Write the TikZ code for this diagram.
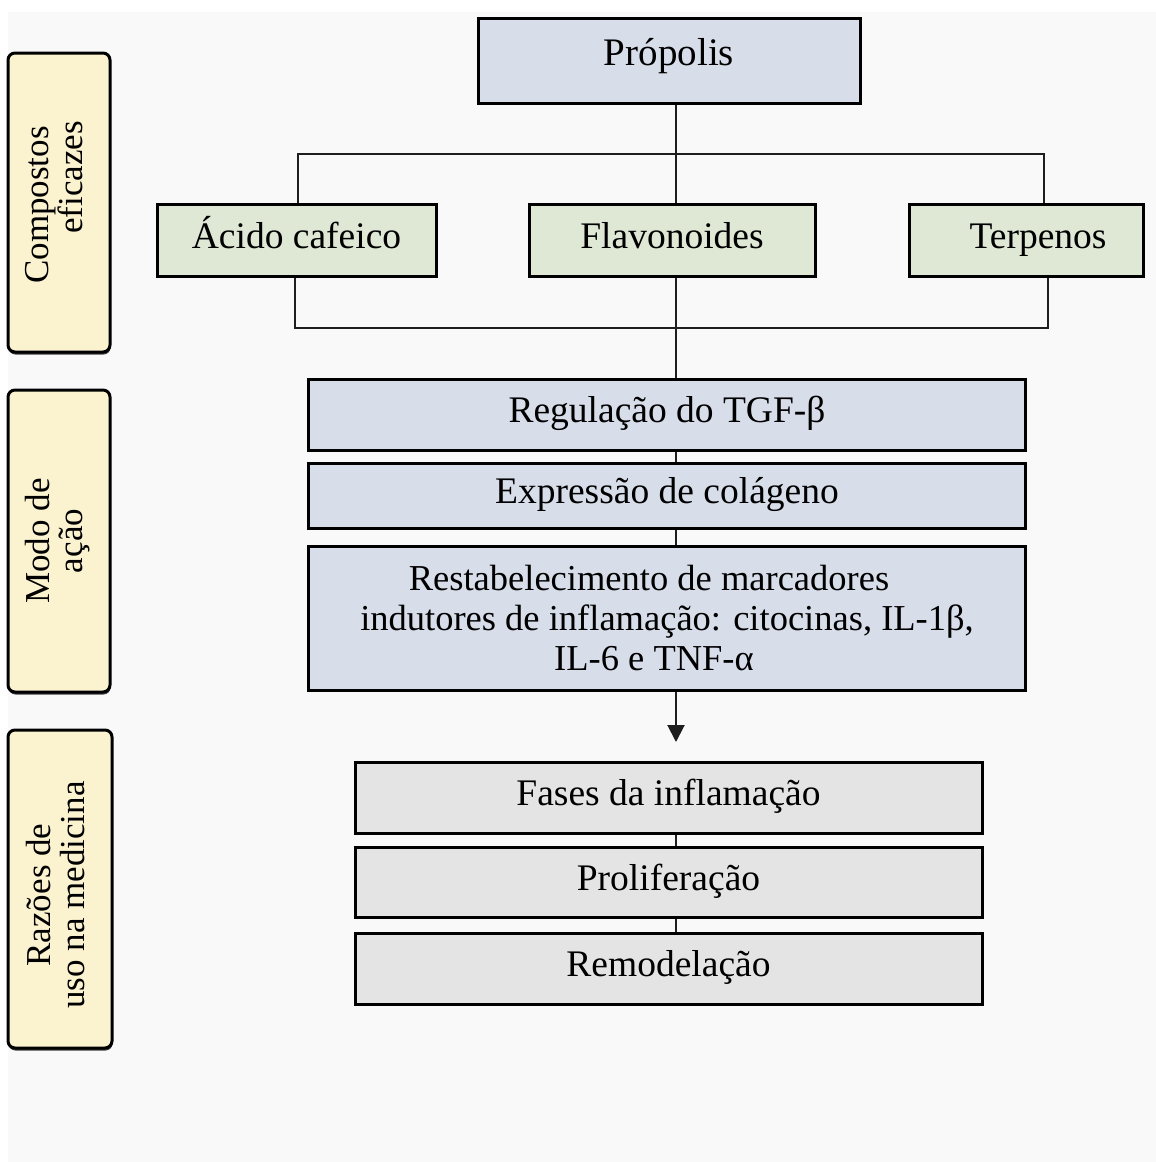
\documentclass[tikz,border=0pt]{standalone}
\usepackage{fontspec}
\setmainfont{Liberation Serif}
\usetikzlibrary{arrows.meta,shadows}
\definecolor{bgc}{RGB}{249,249,249}
\definecolor{creamF}{RGB}{251,242,208}
\definecolor{blueF}{RGB}{216,221,234}
\definecolor{greenF}{RGB}{222,232,213}
\definecolor{grayF}{RGB}{228,228,228}
\definecolor{lineC}{RGB}{30,30,30}
\begin{document}
\begin{tikzpicture}[x=1pt,y=-1pt,
  box/.style={draw=black, line width=3pt, inner sep=0pt, align=center,
    font=\fontsize{37.5}{40}\selectfont, text height=26pt, text depth=10pt},
  bluebox/.style={box, fill=blueF},
  greenbox/.style={box, fill=greenF},
  graybox/.style={box, fill=grayF},
  multibox/.style={draw=black, line width=3pt, inner sep=0pt, align=center,
    fill=blueF, font=\fontsize{36.5}{40}\selectfont},
  sidebox/.style={draw=black, line width=3pt, rounded corners=7pt, fill=creamF,
    inner sep=0pt, font=\fontsize{35}{32}\selectfont,
    drop shadow={shadow xshift=0.5pt, shadow yshift=-2.5pt, fill=black, opacity=0.75}},
  conn/.style={draw=lineC, line width=2pt},
]
\useasboundingbox (0,0) rectangle (1156,1162);
\fill[white] (0,0) rectangle (1156,1162);
\fill[bgc] (8,12) rectangle (1156,1162);

\coordinate (spine) at (676,0);

% side labels
\node[sidebox, minimum width=102, minimum height=299] (s1) at (59,202.5)
  {\rotatebox{90}{\begin{tabular}{@{}l@{}}Compostos\\\hspace*{50pt}eficazes\end{tabular}}};
\node[sidebox, minimum width=102, minimum height=302] (s2) at (59,541)
  {\rotatebox{90}{\begin{tabular}{@{}c@{}}Modo de\\ação\end{tabular}}};
\node[sidebox, minimum width=104, minimum height=318] (s3) at (60,889)
  {\rotatebox{90}{\begin{tabular}{@{}c@{}}Razões de\\uso na medicina\end{tabular}\hspace*{12pt}}};

% top
\node[bluebox, minimum width=382, minimum height=85, font=\fontsize{39}{42}\selectfont,
  text height=27pt, text depth=17pt] (prop) at (669,60.5) {Própolis};

% compounds
\node[greenbox, minimum width=279, minimum height=72] (acido) at (296.5,240) {Ácido cafeico};
\node[greenbox, minimum width=286, minimum height=72] (flav) at (672,240) {Flavonoides};
\node[greenbox, minimum width=234, minimum height=72] (terp) at (1026,240) {\hspace*{24pt}Terpenos};

% mode of action
\node[bluebox, minimum width=717, minimum height=71] (reg) at (667,414.5) {Regulação do TGF-β};
\node[bluebox, minimum width=717, minimum height=65] (expr) at (667,495.5) {Expressão de colágeno};
\node[multibox, minimum width=717, minimum height=144] (rest) at (667,618)
  {Restabelecimento de marcadores\hspace*{36pt}\\indutores de inflamação: citocinas, IL-1β,\\IL-6 e TNF-α\hspace*{26pt}};

% reasons
\node[graybox, minimum width=627, minimum height=71] (fases) at (668.5,797.5) {Fases da inflamação};
\node[graybox, minimum width=627, minimum height=70] (prolif) at (668.5,882) {Proliferação};
\node[graybox, minimum width=627, minimum height=71] (remod) at (668.5,968.5) {Remodelação};

\coordinate (arrtip) at (676,742);

% connectors
\draw[conn] (prop.south -| spine) -- (flav.north -| spine);
\draw[conn] ([xshift=1.5pt]acido.north) -- ++(0,-49) -| ([xshift=18pt]terp.north);
\draw[conn] ([xshift=-1.5pt]acido.south) -- ++(0,50) -| ([xshift=22pt]terp.south);
\draw[conn] (flav.south -| spine) -- (reg.north -| spine);
\draw[conn] (reg.south -| spine) -- (expr.north -| spine);
\draw[conn] (expr.south -| spine) -- (rest.north -| spine);
\draw[conn, -{Triangle[length=17pt,width=17pt]}] (rest.south -| spine) -- (arrtip);
\draw[conn] (fases.south -| spine) -- (prolif.north -| spine);
\draw[conn] (prolif.south -| spine) -- (remod.north -| spine);
\end{tikzpicture}
\end{document}
